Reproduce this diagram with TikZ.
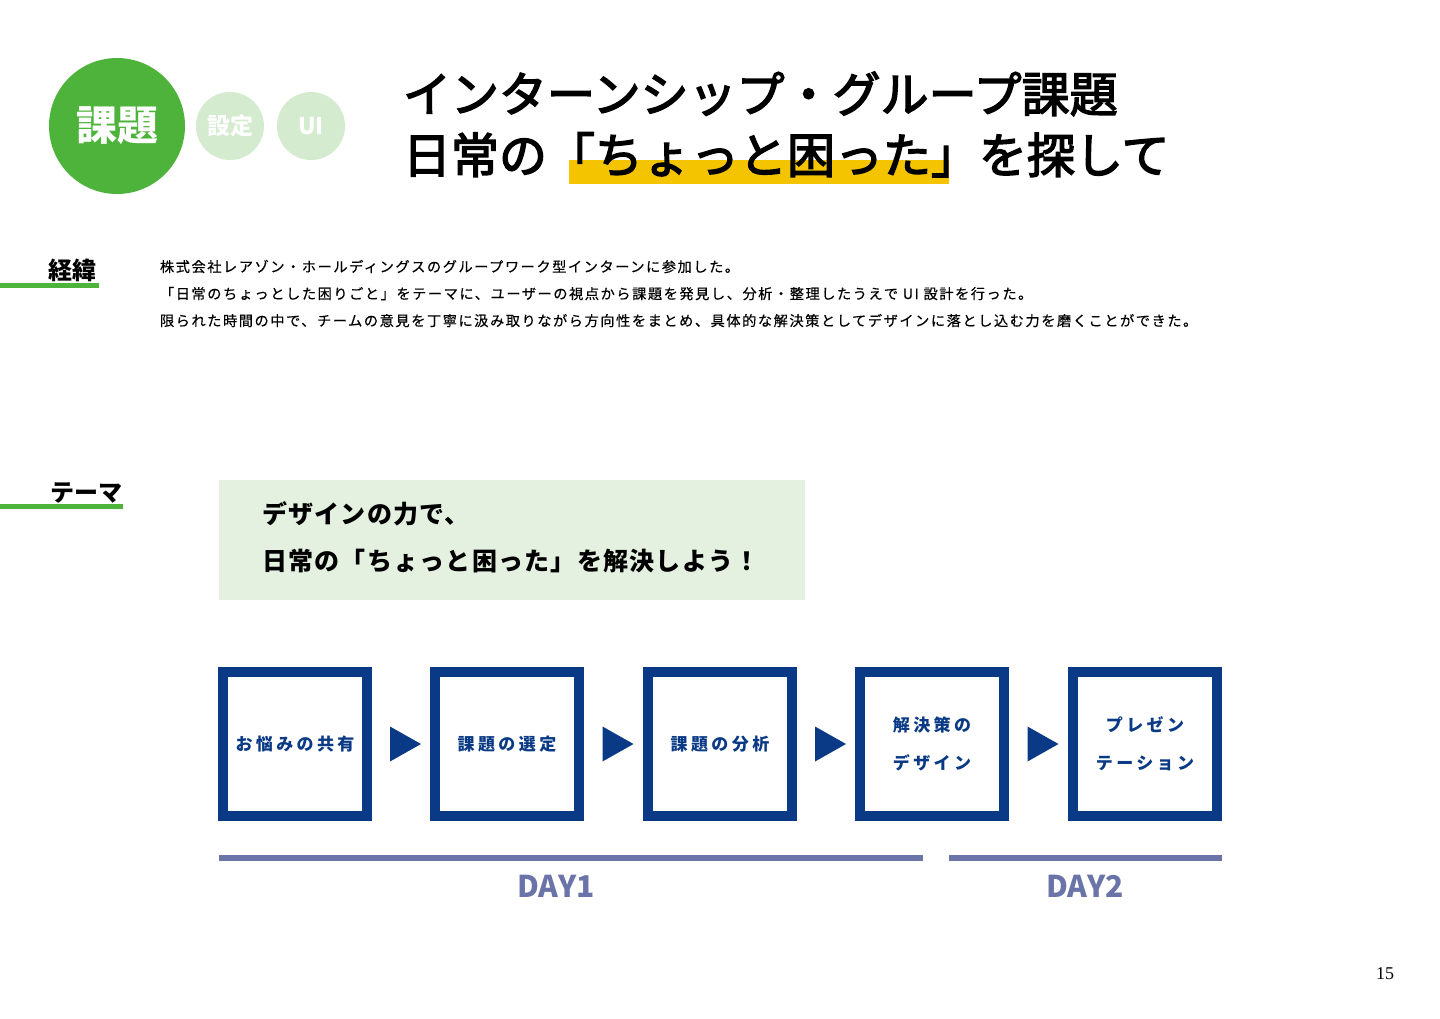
\documentclass[tikz,border=0pt]{standalone}
\usepackage{fontspec}
\usetikzlibrary{calc}
\setmainfont{Noto Sans CJK JP}
\newfontfamily\cjk{Noto Sans CJK JP}
\newfontfamily\cjktitle[FakeBold=3]{Noto Sans CJK JP}
\newfontfamily\cjkbody[LetterSpace=11,FakeBold=0.4]{Noto Sans CJK JP}
\newfontfamily\cjkbox[LetterSpace=20]{Noto Sans CJK JP}
\newfontfamily\cjktheme[LetterSpace=5]{Noto Sans CJK JP}
\newfontfamily\pagefont{Liberation Serif}
\definecolor{mygreen}{HTML}{4DB33A}
\definecolor{lightgreen}{HTML}{D4EBCF}
\definecolor{themebg}{HTML}{E4F0E0}
\definecolor{navy}{HTML}{0A3A85}
\definecolor{daycol}{HTML}{6A74A8}
\definecolor{hl}{HTML}{F5C400}
\begin{document}
\begin{tikzpicture}[x=1pt,y=-1pt,
  every node/.style={inner sep=0pt, outer sep=0pt},
  stepbox/.style={draw=navy, line width=10pt, minimum size=144pt, fill=white,
    font=\cjkbox\bfseries\fontsize{17}{38}\selectfont, text=navy, align=center},
  tri/.style={fill=navy},
  bodytext/.style={anchor=base west, font=\cjkbody\fontsize{14.2}{14}\selectfont, text=black},
  sectlabel/.style={font=\cjk\bfseries\fontsize{24}{24}\selectfont, text=black},
  greenbar/.style={fill=mygreen},
  daybar/.style={fill=daycol},
  daylabel/.style={font=\cjk\bfseries\fontsize{30}{30}\selectfont, text=daycol},
  titletext/.style={anchor=base west, font=\cjktitle\fontsize{48}{48}\selectfont, text=black},
  themetext/.style={anchor=base west, font=\cjktheme\bfseries\fontsize{25}{25}\selectfont, text=black}
]
\useasboundingbox (0,0) rectangle (1440,1018);
\fill[white] (0,0) rectangle (1440,1018);

% header circles
\node[circle, fill=mygreen, minimum size=136pt, font=\cjk\bfseries\fontsize{41}{41}\selectfont, text=white] (c1) at (117,126) {課題};
\node[circle, fill=lightgreen, minimum size=68pt, font=\cjk\bfseries\fontsize{23}{23}\selectfont, text=white] (c2) at (230,126) {設定};
\node[circle, fill=lightgreen, minimum size=68pt, font=\cjk\bfseries\fontsize{23}{23}\selectfont, text=white] (c3) at (311,126) {UI};

% title
\fill[hl] (569,160) rectangle (949,184);
\node[titletext] (t1) at (403,112) {インターンシップ・グループ課題};
\node[titletext] (t2) at (403,173) {日常の「ちょっと困った」を探して};

% section 経緯
\node[sectlabel, anchor=base west] (l1) at (48,279) {経緯};
\fill[greenbar] (0,283) rectangle (99,288);
\node[bodytext] (p1) at (160,272) {株式会社レアゾン・ホールディングスのグループワーク型インターンに参加した。};
\node[bodytext] (p2) at (160,299) {「日常のちょっとした困りごと」をテーマに、ユーザーの視点から課題を発見し、分析・整理したうえで UI 設計を行った。};
\node[bodytext] (p3) at (160,326) {限られた時間の中で、チームの意見を丁寧に汲み取りながら方向性をまとめ、具体的な解決策としてデザインに落とし込む力を磨くことができた。};

% section テーマ
\node[sectlabel, anchor=base west] (l2) at (50,501) {テーマ};
\fill[greenbar] (0,504) rectangle (123,509);
\fill[themebg] (219,480) rectangle (805,600);
\node[themetext] (th1) at (262,523) {デザインの力で、};
\node[themetext] (th2) at (262,570) {日常の「ちょっと困った」を解決しよう！};

% process
\node[stepbox] (b1) at (295,744) {お悩みの共有};
\node[stepbox] (b2) at (507,744) {課題の選定};
\node[stepbox] (b3) at (720,744) {課題の分析};
\node[stepbox] (b4) at (932,744) {解決策の\\デザイン};
\node[stepbox] (b5) at (1145,744) {プレゼン\\テーション};

\foreach \a/\b in {b1/b2,b2/b3,b3/b4,b4/b5}{
  \fill[tri] ($(\a.east)!0.5!(\b.west)+(-11,-17.5)$) -- ++(31,17.5) -- ++(-31,17.5) -- cycle;
}

% days
\fill[daybar] (219,855) rectangle (923,861);
\fill[daybar] (949,855) rectangle (1222,861);
\node[daylabel] (d1) at (556,886) {DAY1};
\node[daylabel] (d2) at (1085,886) {DAY2};

% page number
\node[font=\pagefont\fontsize{18}{18}\selectfont] (pg) at (1385,974) {15};
\end{tikzpicture}
\end{document}
